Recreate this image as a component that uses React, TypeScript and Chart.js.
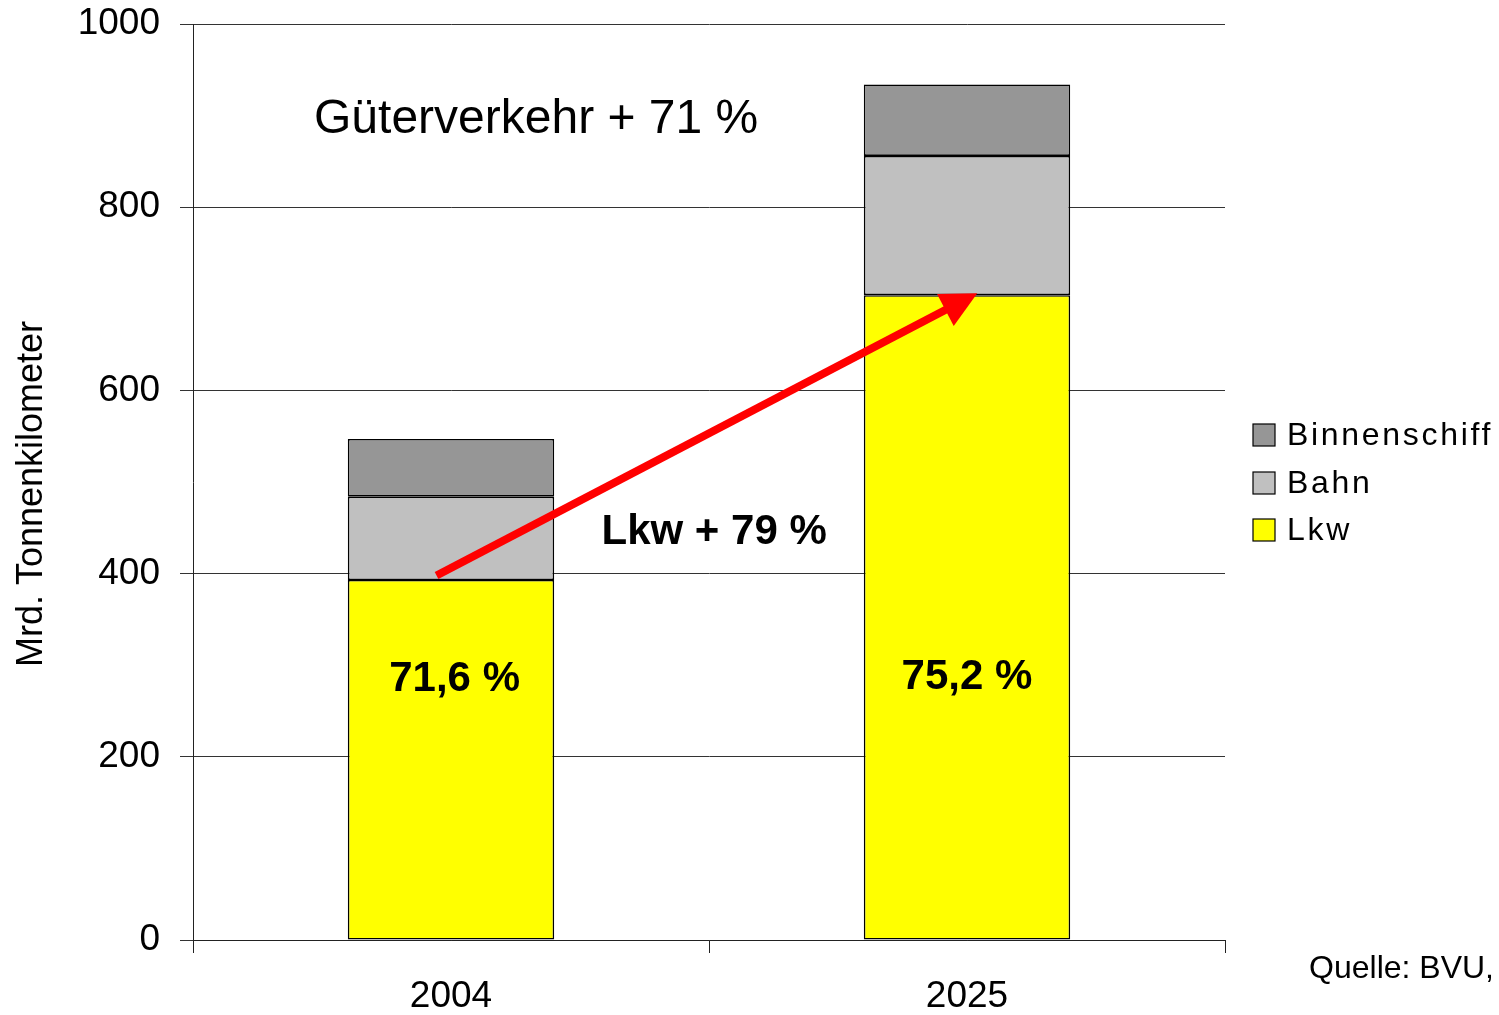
import React, { useEffect, useRef } from "react";
import { Chart, registerables } from "chart.js";

Chart.register(...registerables);

const categories = ["2004", "2025"];
const lkwValues = [393, 704];
const bahnValues = [91, 152];
const binnenschiffValues = [63, 78];
const yTicks = [0, 200, 400, 600, 800, 1000];

const seriesNames = ["Lkw", "Bahn", "Binnenschiff"];
const seriesColors = ["#FFFF00", "#C0C0C0", "#969696"];

const titleText = "Güterverkehr + 71 %";
const lkwGrowthText = "Lkw + 79 %";
const shareLabels = ["71,6 %", "75,2 %"];
const sourceText = "Quelle: BVU,";
const yTitle = "Mrd. Tonnenkilometer";

// annotation anchors in data space (category index, value)
const titlePos = { x: 0.165, y: 895 };
const lkwGrowthPos = { x: 0.51, y: 445 };
const sharePos = [
  { x: 0.007, y: 285 },
  { x: 1.0, y: 287 },
];
const arrowFrom = { x: -0.028, y: 398 };
const arrowTo = { x: 1.02, y: 706 };

const FONT = '"Liberation Sans", Arial, sans-serif';

const overlayPlugin = {
  id: "overlay",
  afterDatasetsDraw(chart: any) {
    const ctx = chart.ctx as CanvasRenderingContext2D;
    const xs = chart.scales.x;
    const ys = chart.scales.y;
    const px = (v: number) => xs.getPixelForValue(v);
    const py = (v: number) => ys.getPixelForValue(v);

    ctx.save();
    // Arrow
    const x1 = px(arrowFrom.x), y1 = py(arrowFrom.y);
    const x2 = px(arrowTo.x), y2 = py(arrowTo.y);
    const dx = x2 - x1, dy = y2 - y1;
    const len = Math.hypot(dx, dy);
    const ux = dx / len, uy = dy / len;
    const headLen = 36, headHalf = 18;
    const bx = x2 - ux * headLen, by = y2 - uy * headLen;
    ctx.strokeStyle = "#FF0000";
    ctx.lineWidth = 8;
    ctx.lineCap = "butt";
    ctx.beginPath();
    ctx.moveTo(x1, y1);
    ctx.lineTo(bx + ux * 2, by + uy * 2);
    ctx.stroke();
    ctx.fillStyle = "#FF0000";
    ctx.beginPath();
    ctx.moveTo(x2, y2);
    ctx.lineTo(bx - uy * headHalf, by + ux * headHalf);
    ctx.lineTo(bx + uy * headHalf, by - ux * headHalf);
    ctx.closePath();
    ctx.fill();

    ctx.fillStyle = "#000";
    ctx.textBaseline = "middle";
    ctx.textAlign = "center";

    ctx.font = `48px ${FONT}`;
    ctx.fillText(titleText, px(titlePos.x), py(titlePos.y));

    ctx.font = `bold 42px ${FONT}`;
    ctx.fillText(lkwGrowthText, px(lkwGrowthPos.x), py(lkwGrowthPos.y));

    ctx.font = `bold 42px ${FONT}`;
    shareLabels.forEach((t, i) => {
      ctx.fillText(t, px(sharePos[i].x), py(sharePos[i].y));
    });

    // Y axis title
    ctx.save();
    ctx.translate(32, (chart.chartArea.top + chart.chartArea.bottom) / 2 + 12);
    ctx.rotate(-Math.PI / 2);
    ctx.font = `36px ${FONT}`;
    ctx.fillText(yTitle, 0, 0);
    ctx.restore();

    // Source
    ctx.font = `32px ${FONT}`;
    ctx.textAlign = "right";
    ctx.fillText(sourceText, chart.width - 5, chart.chartArea.bottom + 29);

    // Legend
    const lx = chart.chartArea.right + 28;
    const rowYs = [435, 483, 530];
    const order = [2, 1, 0];
    ctx.textAlign = "left";
    ctx.font = `32px ${FONT}`;
    (ctx as any).letterSpacing = "2.7px";
    order.forEach((si, r) => {
      const cy = rowYs[r];
      ctx.fillStyle = seriesColors[si];
      ctx.fillRect(lx, cy - 11, 22, 22);
      ctx.strokeStyle = "#000";
      ctx.lineWidth = 1.2;
      ctx.strokeRect(lx, cy - 11, 22, 22);
      ctx.fillStyle = "#000";
      ctx.fillText(seriesNames[si], lx + 34, cy + 1);
    });
    ctx.restore();
  },
};

export default function App() {
  const ref = useRef<HTMLCanvasElement | null>(null);
  useEffect(() => {
    if (!ref.current) return;
    const values = [lkwValues, bahnValues, binnenschiffValues];
    const chart = new Chart(ref.current, {
      type: "bar",
      data: {
        labels: categories,
        datasets: seriesNames.map((name, i) => ({
          label: name,
          data: values[i],
          backgroundColor: seriesColors[i],
          borderColor: "#000",
          borderWidth: 1.6,
          borderSkipped: false,
          categoryPercentage: 1,
          barPercentage: 0.4,
        })),
      },
      options: {
        responsive: false,
        animation: false,
        devicePixelRatio: 1,
        layout: { padding: { left: 0, top: 24, right: 274, bottom: 0 } },
        plugins: {
          legend: { display: false },
          tooltip: { enabled: false },
          title: { display: false },
        },
        scales: {
          x: {
            stacked: true,
            offset: true,
            afterFit: (s: any) => {
              s.height = 75;
              s.paddingLeft = 0;
              s.paddingRight = 0;
            },
            grid: {
              display: true,
              drawOnChartArea: false,
              drawTicks: true,
              tickLength: 13,
              offset: true,
              color: "#222",
              lineWidth: 1,
            },
            border: { display: true, color: "#222", width: 1 },
            ticks: {
              color: "#000",
              font: { family: FONT, size: 37 },
              padding: 22,
              maxRotation: 0,
            },
          },
          y: {
            stacked: true,
            min: 0,
            max: 1000,
            afterFit: (s: any) => {
              s.width = 193;
              s.paddingTop = 0;
              s.paddingBottom = 0;
            },
            afterBuildTicks: (s: any) => {
              s.ticks = yTicks.map((v) => ({ value: v }));
            },
            grid: {
              display: true,
              drawTicks: true,
              tickLength: 13,
              color: "#333",
              lineWidth: 1,
            },
            border: { display: true, color: "#222", width: 1 },
            ticks: {
              color: "#000",
              font: { family: FONT, size: 37 },
              padding: 20,
              callback: (v: any) => String(v),
            },
          },
        },
      },
      plugins: [overlayPlugin],
    });
    return () => chart.destroy();
  }, []);
  return (
    <div style={{ position: "fixed", left: 0, top: 0, width: 1499, height: 1015, background: "#fff" }}>
      <canvas ref={ref} width={1499} height={1015} style={{ width: 1499, height: 1015, display: "block" }} />
    </div>
  );
}
